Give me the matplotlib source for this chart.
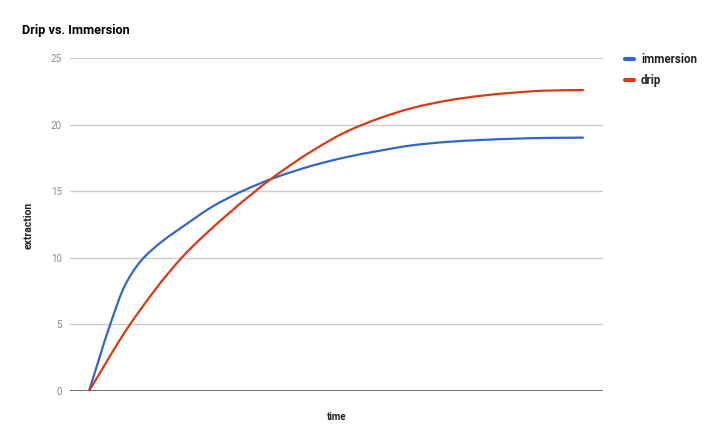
import matplotlib
matplotlib.use("Agg")
import matplotlib.pyplot as plt
from matplotlib.path import Path
from matplotlib.patches import PathPatch
from matplotlib.lines import Line2D

plt.rcParams['font.family'] = ['Roboto', 'DejaVu Sans']

title = "Drip vs. Immersion"
x_label = "time"
y_label = "extraction"
series_names = ["immersion", "drip"]
colors = ["#3366cc", "#dc3912"]

immersion_t = [0, 0.85, 1.46, 2.13, 2.94, 3.89, 5.0, 6.2, 7.5, 9.1, 10.4, 11.8, 13.1,
               14.5, 15.8, 17.2, 18.5, 20.0]
immersion_v = [0, 4.95, 7.95, 9.83, 11.2, 12.46, 13.85, 15.0, 16.0, 16.95, 17.55, 18.05,
               18.45, 18.7, 18.84, 18.94, 19.0, 19.02]

drip_t = [0, 1.66, 3.75, 5.7, 7.5, 9.1, 10.4, 11.8, 13.1, 14.5, 15.8, 17.2, 18.5, 20.0]
drip_v = [0, 5.0, 10.0, 13.4, 16.1, 18.1, 19.45, 20.5, 21.25, 21.8, 22.15, 22.4, 22.55, 22.6]

y_ticks = [0, 5, 10, 15, 20, 25]


def smooth_path(t, v):
    """Monotone cubic (PCHIP) curve through the points, as Bezier path."""
    n = len(t)
    h = [t[i + 1] - t[i] for i in range(n - 1)]
    d = [(v[i + 1] - v[i]) / h[i] for i in range(n - 1)]
    m = [0.0] * n
    m[0] = d[0]
    m[-1] = d[-1]
    for i in range(1, n - 1):
        if d[i - 1] * d[i] <= 0:
            m[i] = 0.0
        else:
            w1 = 2 * h[i] + h[i - 1]
            w2 = h[i] + 2 * h[i - 1]
            m[i] = (w1 + w2) / (w1 / d[i - 1] + w2 / d[i])
    verts = [(t[0], v[0])]
    codes = [Path.MOVETO]
    for i in range(n - 1):
        verts += [(t[i] + h[i] / 3, v[i] + m[i] * h[i] / 3),
                  (t[i + 1] - h[i] / 3, v[i + 1] - m[i + 1] * h[i] / 3),
                  (t[i + 1], v[i + 1])]
        codes += [Path.CURVE4] * 3
    return Path(verts, codes)


fig = plt.figure(figsize=(7.2, 4.45), dpi=100)
ax = fig.add_axes([70/720, 1-391/445, 533/720, 333/445])

for (tt, vv), col in zip([(immersion_t, immersion_v), (drip_t, drip_v)], colors):
    ax.add_patch(PathPatch(smooth_path(tt, vv), fill=False, edgecolor=col, lw=1.6,
                           joinstyle='round', capstyle='round', zorder=3))

ax.set_xlim(-0.77, 20.81)
ax.set_ylim(0, 25)
ax.set_yticks(y_ticks)
ax.set_yticklabels([str(v) for v in y_ticks])
ax.set_xticks([])
for yv in y_ticks[1:]:
    ax.axhline(yv, color="#cccccc", lw=1.0, zorder=0)
ax.axhline(0, color="#555555", lw=1.2, zorder=1)

for s in ax.spines.values():
    s.set_visible(False)
ax.tick_params(axis='y', length=0, pad=6, labelsize=7, labelcolor="#8a8a8a")

fig.text(22/720, 1-30.5/445, title, fontsize=9.2, fontweight='bold', color="#000000",
         ha='left', va='center')
fig.text(337/720, 1-417/445, x_label, fontsize=7, fontweight='bold', color="#222222",
         ha='center', va='center')
fig.text(29/720, 1-225/445, y_label, fontsize=7.5, fontweight='bold', color="#222222",
         ha='center', va='center', rotation=90)

handles = [Line2D([], [], color=c, lw=3, solid_capstyle='round') for c in colors]
leg = ax.legend(handles, series_names, loc='upper left',
                bbox_to_anchor=(550/533, 1.03),
                frameon=False, fontsize=8.4, handlelength=0.8, handletextpad=0.6,
                labelspacing=0.75, borderaxespad=0)
for t in leg.get_texts():
    t.set_fontweight('bold')
    t.set_color("#222222")

fig.savefig("out.png", dpi=100, facecolor="white")
